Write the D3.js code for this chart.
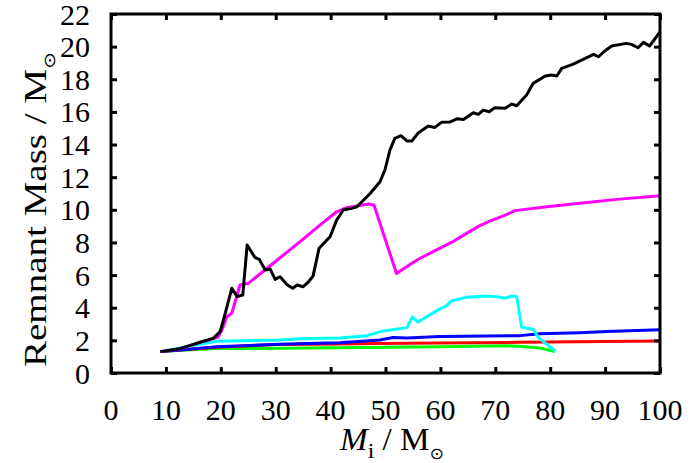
<!DOCTYPE html>
<html>
<head>
<meta charset="utf-8">
<script src="https://cdn.jsdelivr.net/npm/d3@7"></script>
<style>
  html, body { margin: 0; padding: 0; background: #fff; }
  svg { display: block; }
  text { font-family: "Liberation Serif", "DejaVu Serif", serif; fill: #000; }
</style>
</head>
<body>
<svg id="chart" width="693" height="463"></svg>
<script>
// ---- data (initial mass in Msun, remnant mass in Msun) ----
const blackM = [9, 12.6, 15.6, 18.6, 19.9, 20.8, 22.0, 23.0, 24.0, 24.8, 26.2, 27.0, 28.1, 29.0, 29.9, 30.8, 32.0, 33.1, 33.9, 35.0, 35.9, 36.8, 37.9, 39.9, 41.1, 42.3, 43.8, 44.8, 47.2, 49.0, 49.9, 50.8, 51.7, 52.8, 53.9, 54.8, 56.0, 57.8, 59.0, 60.2, 61.7, 63.0, 64.2, 66.0, 66.9, 67.8, 68.9, 69.9, 71.8, 73.0, 73.9, 75.7, 76.9, 79.1, 80.3, 81.2, 82.1, 84.2, 86.0, 87.9, 88.8, 90.0, 91.2, 93.9, 94.8, 96.0, 97.0, 98.1, 100];
const blackV = [1.31, 1.49, 1.82, 2.12, 2.53, 3.66, 5.19, 4.68, 4.78, 7.84, 7.09, 6.97, 6.31, 6.37, 5.74, 5.9, 5.43, 5.19, 5.39, 5.29, 5.56, 5.94, 7.64, 8.35, 9.37, 9.99, 10.09, 10.19, 11.0, 11.72, 12.44, 13.66, 14.38, 14.54, 14.22, 14.22, 14.73, 15.13, 15.05, 15.36, 15.38, 15.58, 15.54, 15.95, 15.85, 16.11, 16.01, 16.26, 16.22, 16.48, 16.38, 17.03, 17.75, 18.2, 18.26, 18.2, 18.67, 18.93, 19.22, 19.53, 19.38, 19.75, 20.04, 20.2, 20.14, 19.93, 20.26, 20.04, 20.9];

const magentaM = [9, 12.6, 15.6, 18.6, 19.5, 20.2, 21.1, 22.0, 23.5, 25.0, 30, 35, 38, 41.1, 42.9, 46.9, 47.9, 49.0, 50.8, 52.0, 54.8, 56.3, 59.3, 62, 65, 67, 69.0, 71.8, 73.6, 79.4, 85.4, 92.1, 100];
const magentaV = [1.31, 1.49, 1.82, 2.1, 2.2, 2.63, 3.45, 3.66, 5.39, 5.49, 6.85, 8.2, 9.05, 9.88, 10.13, 10.36, 10.29, 9.17, 7.33, 6.1, 6.72, 7.03, 7.54, 8.0, 8.6, 9.0, 9.31, 9.68, 9.95, 10.19, 10.4, 10.64, 10.87];

const cyanM = [9, 12, 15, 19.3, 24, 30.8, 34.4, 41.7, 46.6, 49.6, 53.9, 54.9, 55.9, 59.9, 61.0, 62.1, 64.8, 68.4, 70.3, 71.9, 73.0, 73.9, 74.8, 76.9, 77.8, 80.9];
const cyanV = [1.31, 1.5, 1.7, 1.95, 1.98, 2.02, 2.1, 2.15, 2.29, 2.58, 2.78, 3.43, 3.12, 3.93, 4.1, 4.43, 4.64, 4.72, 4.68, 4.58, 4.72, 4.68, 2.8, 2.68, 2.19, 1.35];

const blueM = [9, 12, 19.3, 30.8, 37.5, 41.7, 49.0, 51.4, 53.9, 59.9, 74.5, 78.1, 85.4, 90.3, 100];
const blueV = [1.31, 1.4, 1.61, 1.76, 1.82, 1.85, 2.02, 2.17, 2.14, 2.23, 2.29, 2.4, 2.47, 2.55, 2.65];

const redM = [9, 12, 20, 30, 41.7, 47.8, 59.9, 74.5, 100];
const redV = [1.31, 1.4, 1.6, 1.74, 1.78, 1.81, 1.84, 1.88, 1.96];

const greenM = [9, 12, 19.3, 30.8, 41.7, 59.9, 72.1, 74.8, 78.1, 80.9];
const greenV = [1.31, 1.38, 1.5, 1.51, 1.54, 1.61, 1.67, 1.63, 1.53, 1.31];

const xTicks = [0, 10, 20, 30, 40, 50, 60, 70, 80, 90, 100];
const yTicks = [0, 2, 4, 6, 8, 10, 12, 14, 16, 18, 20, 22];

const series = [
  { M: greenM, V: greenV, color: "#00ff00" },
  { M: redM, V: redV, color: "#ff0000" },
  { M: blueM, V: blueV, color: "#0000ff" },
  { M: cyanM, V: cyanV, color: "#00ffff" },
  { M: magentaM, V: magentaV, color: "#ff00ff" },
  { M: blackM, V: blackV, color: "#000000" }
];

// ---- layout ----
const pL = 111, pR = 660, pT = 14, pB = 373;
const svg = d3.select("#chart");
const x = d3.scaleLinear().domain([0, 100]).range([pL, pR]);
const y = d3.scaleLinear().domain([0, 22]).range([pB, pT]);

const tickLen = 6;
const fs = 30;

// lines
const line = d3.line().x(d => x(d[0])).y(d => y(d[1]));
svg.append("clipPath").attr("id", "clip").append("rect")
  .attr("x", pL).attr("y", pT).attr("width", pR - pL).attr("height", pB - pT);
const g = svg.append("g").attr("clip-path", "url(#clip)");
series.forEach(s => {
  const pts = s.M.map((m, i) => [m, s.V[i]]);
  g.append("path").attr("d", line(pts)).attr("fill", "none")
    .attr("stroke", s.color).attr("stroke-width", 3).attr("stroke-linejoin", "round");
});

// axes (inward ticks on all sides)
const xb = svg.append("g").attr("transform", `translate(0,${pB})`)
  .call(d3.axisBottom(x).tickValues(xTicks).tickSizeInner(-tickLen).tickSizeOuter(0).tickFormat(""));
const xt = svg.append("g").attr("transform", `translate(0,${pT})`)
  .call(d3.axisTop(x).tickValues(xTicks).tickSizeInner(-tickLen).tickSizeOuter(0).tickFormat(""));
const yl = svg.append("g").attr("transform", `translate(${pL},0)`)
  .call(d3.axisLeft(y).tickValues(yTicks).tickSizeInner(-tickLen).tickSizeOuter(0).tickFormat(""));
const yr = svg.append("g").attr("transform", `translate(${pR},0)`)
  .call(d3.axisRight(y).tickValues(yTicks).tickSizeInner(-tickLen).tickSizeOuter(0).tickFormat(""));
[xb, xt, yl, yr].forEach(a => {
  a.select(".domain").remove();
  a.selectAll(".tick line").attr("stroke", "#000").attr("stroke-width", 3);
});

// frame
svg.append("rect").attr("x", pL).attr("y", pT).attr("width", pR - pL).attr("height", pB - pT)
  .attr("fill", "none").attr("stroke", "#000").attr("stroke-width", 3);

// tick labels
svg.append("g").selectAll("text").data(xTicks).join("text")
  .attr("x", d => x(d)).attr("y", 420).attr("text-anchor", "middle")
  .attr("font-size", fs).text(d => d);
svg.append("g").selectAll("text").data(yTicks).join("text")
  .attr("x", 90).attr("y", d => y(d) + 10.5).attr("text-anchor", "end")
  .attr("font-size", fs).text(d => d);

// x label (spans x = 340..444 in the reference)
const xl = svg.append("text").attr("x", 340).attr("y", 450).attr("text-anchor", "start").attr("font-size", 31)
  .attr("textLength", 104).attr("lengthAdjust", "spacingAndGlyphs");
xl.append("tspan").attr("font-style", "italic").text("M");
xl.append("tspan").attr("font-size", 22).attr("dy", 8).text("i");
xl.append("tspan").attr("dy", -8).text(" / M");
xl.append("tspan").attr("font-size", 16).attr("dy", 9).attr("font-family", "DejaVu Sans").text("\u2299");

// y label (runs from y = 367 up to y = 52 in the reference)
const ylab = svg.append("text").attr("transform", "translate(46,367) rotate(-90)")
  .attr("x", 0).attr("y", 0).attr("text-anchor", "start").attr("font-size", 31)
  .attr("textLength", 315).attr("lengthAdjust", "spacingAndGlyphs");
ylab.append("tspan").text("Remnant Mass / M");
ylab.append("tspan").attr("font-size", 16).attr("dy", 9).attr("font-family", "DejaVu Sans").text("\u2299");
</script>
</body>
</html>
